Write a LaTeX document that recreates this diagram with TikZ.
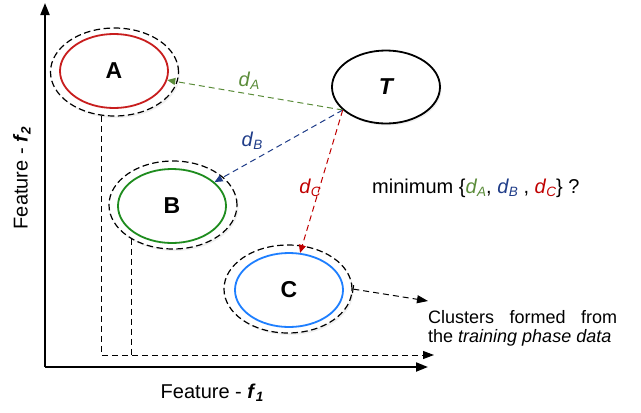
\documentclass[tikz,border=0pt]{standalone}
\usepackage{fontspec}
\setmainfont{Liberation Sans}
\usetikzlibrary{arrows.meta,shapes.geometric,calc,shadows}
\definecolor{cred}{HTML}{C81E1E}
\definecolor{cgreen}{HTML}{1E8C1E}
\definecolor{cblue}{HTML}{1E7FFF}
\definecolor{dgreen}{HTML}{5B8C3A}
\definecolor{dblue}{HTML}{1F3C88}
\definecolor{dred}{HTML}{C00000}
\newcommand\mysub[1]{\raisebox{-3pt}{\fontsize{13.5}{13.5}\selectfont #1}}
\newcommand\dd[1]{\textit{d}\mysub{\textit{#1}}}
\begin{document}
\begin{tikzpicture}[x=1pt,y=-1pt,
  shade/.style={drop shadow={opacity=0.12,shadow xshift=1.5pt,shadow yshift=-2pt}},
  outer/.style={ellipse,draw,line width=1.2pt,dash pattern=on 6.5pt off 3.5pt,minimum width=128pt,minimum height=88pt,inner sep=0pt,fill=white,shade},
  inner/.style={ellipse,draw,line width=1.8pt,minimum width=108pt,minimum height=74pt,inner sep=0pt,font=\fontsize{23}{23}\selectfont\bfseries},
  dist/.style={line width=1pt,dash pattern=on 6pt off 4pt,-{Triangle[length=8pt,width=7pt]}},
  guide/.style={line width=1pt,dash pattern=on 6pt off 4pt},
  axis/.style={line width=2pt,-{Triangle[length=12pt,width=9pt]}},
  txt/.style={font=\fontsize{20}{20}\selectfont,inner sep=0pt},
  small/.style={font=\fontsize{18}{18}\selectfont,inner sep=0pt}
]
\useasboundingbox (0,0) rectangle (641,413);

% axes
\coordinate (O) at (45,367);
\coordinate (Ytip) at (45,3);
\coordinate (Xtip) at (428,367);
\draw[axis] (O) -- (Ytip);
\draw[axis] (O) -- (Xtip);

% clusters
\node[outer] (Ao) at (114.5,72) {};
\node[inner,draw=cred] (A) at (114,71) {A};
\node[outer] (Bo) at (173,205) {};
\node[inner,draw=cgreen] (B) at (172,206) {B};
\node[outer] (Co) at (288,289) {};
\node[inner,draw=cblue] (C) at (289,290) {C};

% test point
\node[ellipse,draw,line width=1.8pt,minimum width=108pt,minimum height=73pt,inner sep=0pt,fill=white,shade,font=\fontsize{23}{23}\selectfont\bfseries\itshape] (T) at (386,87) {T};
\coordinate (Tp) at (T.208);

% guides
\coordinate (g1) at (102,355);
\coordinate (g2) at (133,355);
\coordinate (gx) at (434,355);
\draw[guide] (Ao.254) -- (Ao.254 |- g1);
\draw[guide] (Bo.219) -- (Bo.219 |- g2);
\draw[guide,-{Triangle[length=11pt,width=8pt]}] (g1) -- (gx);

% distances
\draw[dist,dgreen] (Tp) -- (A);
\draw[dist,dblue] (Tp) -- (B);
\draw[dist,dred] (Tp) -- (C);
\node[txt,text=dgreen] (dA) at (249,81) {\dd{A}};
\node[txt,text=dblue] (dB) at (252,141) {\dd{B}};
\node[txt,text=dred] (dC) at (310,188) {\dd{C}};

\node[txt,anchor=west] (M) at (372,188) {minimum \{\textcolor{dgreen}{\dd{A}}, \textcolor{dblue}{\dd{B}} , \textcolor{dred}{\dd{C}}\} ?};

% legend
\coordinate (Lt) at (428,301);
\draw[guide,{Bar[width=8pt]}-{Triangle[length=11pt,width=8pt]}] (Co.east) -- (Lt);
\node[small,anchor=base west] (L1) at (428,323) {\makebox[189pt][s]{Clusters formed from}};
\node[small,anchor=base west] (L2) at (428,342) {the \textit{training phase data}};

% axis labels
\node[txt] (X) at (212,393) {Feature - \textbf{\textit{f}}\mysub{\textbf{\textit{1}}}};
\node[txt,rotate=90] (Y) at (22,178) {Feature - \textbf{\textit{f}}\mysub{\textbf{\textit{2}}}};
\end{tikzpicture}
\end{document}
